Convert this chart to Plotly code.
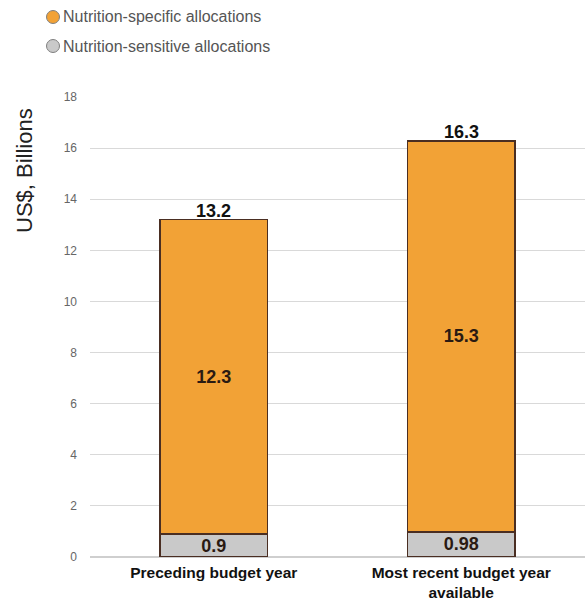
import plotly.graph_objects as go

categories = ["Preceding budget year", "Most recent budget year<br>available"]
sensitive = [0.9, 0.98]
specific = [12.3, 15.3]
sensitive_labels = ["0.9", "0.98"]
specific_labels = ["12.3", "15.3"]
y_ticks = [0, 2, 4, 6, 8, 10, 12, 14, 16, 18]
legend_names = ["Nutrition-specific allocations", "Nutrition-sensitive allocations"]

ORANGE = "#F2A236"
GREY = "#C9C9C9"
EDGE = "#4A2E22"
FONT = "Liberation Sans, Arial, sans-serif"

W, H = 585, 603
L, R, T, B = 90, 0, 97, 46
PW, PH = W - L - R, H - T - B


def px(x):
    return (x - L) / PW


def py(y):
    return (H - B - y) / PH


fig = go.Figure()
fig.add_trace(go.Bar(
    x=categories, y=sensitive, marker=dict(color=GREY, line=dict(color=EDGE, width=1.5)),
    text=sensitive_labels, textposition="inside", insidetextanchor="middle",
    textfont=dict(size=18, color="#2A1A12", family=FONT, weight="bold"),
    cliponaxis=False, showlegend=False, width=0.435))
fig.add_trace(go.Bar(
    x=categories, y=specific, marker=dict(color=ORANGE, line=dict(color=EDGE, width=1.5)),
    text=specific_labels, textposition="inside", insidetextanchor="middle",
    textfont=dict(size=18, color="#2A1A12", family=FONT, weight="bold"),
    showlegend=False, width=0.435))

for c, a, b in zip(categories, sensitive, specific):
    tot = a + b
    fig.add_annotation(x=c, y=tot, text=f"<b>{tot:.1f}</b>", showarrow=False, yanchor="bottom",
                       yshift=-3, font=dict(size=18, color="#111", family=FONT))

# custom legend (circle + text)
for i, (name, col) in enumerate(zip(legend_names, [ORANGE, GREY])):
    cy = 17 + 29 * i
    fig.add_shape(type="circle", xref="paper", yref="paper",
                  x0=px(46.5), x1=px(59.5), y0=py(cy + 6.5), y1=py(cy - 6.5),
                  fillcolor=col, line=dict(color="#808080", width=1))
    fig.add_annotation(xref="paper", yref="paper", x=px(61), y=py(cy), xanchor="left", yanchor="middle",
                       text=name, showarrow=False, font=dict(size=16, color="#555", family=FONT))

# y-axis title
fig.add_annotation(xref="paper", yref="paper", x=px(24), y=py(171), xanchor="center", yanchor="middle",
                   text="US$, Billions", textangle=-90, showarrow=False,
                   font=dict(size=22, color="#222", family=FONT))

fig.update_layout(
    barmode="stack",
    width=W, height=H,
    margin=dict(l=L, r=R, t=T, b=B),
    plot_bgcolor="white", paper_bgcolor="white",
    font=dict(family=FONT),
    showlegend=False,
    uniformtext=dict(minsize=18, mode="show"),
    xaxis=dict(tickfont=dict(size=15.5, color="#111", family=FONT, weight="bold"),
               showline=False, ticks="", showgrid=False, ticklabelstandoff=4, automargin=False),
    yaxis=dict(range=[0, 18], tickvals=y_ticks, showgrid=True, gridcolor="#D9D9D9", gridwidth=1,
               zeroline=True, zerolinecolor="#CFCFCF", zerolinewidth=1.5, automargin=False,
               tickfont=dict(size=12, color="#666", family=FONT), ticks="", ticklabelstandoff=12),
)

fig.write_html("out.html")
